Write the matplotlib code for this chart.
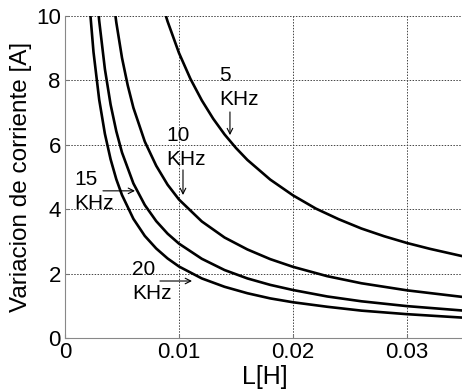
import matplotlib
matplotlib.use("Agg")
import matplotlib.pyplot as plt

plt.rcParams['font.family'] = ['Liberation Sans', 'DejaVu Sans']

# values (L in H, current ripple in A)
L_5k = [0.0085, 0.009, 0.010, 0.011, 0.012, 0.013, 0.014, 0.015, 0.016, 0.018,
        0.020, 0.022, 0.024, 0.026, 0.028, 0.030, 0.032, 0.035]
I_5k = [10.4, 9.83, 8.85, 8.05, 7.38, 6.81, 6.32, 5.90, 5.53, 4.92,
        4.43, 4.02, 3.69, 3.40, 3.16, 2.95, 2.77, 2.53]

L_10k = [0.0043, 0.0045, 0.005, 0.0055, 0.006, 0.007, 0.008, 0.009, 0.010, 0.012,
         0.014, 0.016, 0.018, 0.020, 0.023, 0.026, 0.030, 0.035]
I_10k = [10.35, 9.80, 8.70, 7.85, 7.15, 6.10, 5.35, 4.76, 4.30, 3.62,
         3.12, 2.75, 2.45, 2.21, 1.92, 1.70, 1.48, 1.27]

L_15k = [0.0029, 0.003, 0.0035, 0.004, 0.0045, 0.005, 0.006, 0.007, 0.008, 0.009,
         0.010, 0.012, 0.014, 0.016, 0.018, 0.020, 0.023, 0.026, 0.030, 0.035]
I_15k = [10.24, 9.85, 8.35, 7.25, 6.42, 5.76, 4.80, 4.13, 3.63, 3.24,
         2.93, 2.46, 2.11, 1.85, 1.65, 1.49, 1.29, 1.14, 0.99, 0.85]

L_20k = [0.0021, 0.0025, 0.003, 0.0035, 0.004, 0.0045, 0.005, 0.006, 0.007, 0.008,
         0.009, 0.010, 0.012, 0.014, 0.016, 0.018, 0.020, 0.023, 0.026, 0.030, 0.035]
I_20k = [10.57, 8.88, 7.40, 6.34, 5.55, 4.93, 4.44, 3.70, 3.17, 2.78,
         2.47, 2.22, 1.85, 1.59, 1.39, 1.23, 1.11, 0.97, 0.85, 0.74, 0.63]

labels = ["5\nKHz", "10\nKHz", "15\nKHz", "20\nKHz"]
# text top-left corner, arrow start and arrow tip (data coords)
text_pos = [(0.0135, 8.45), (0.00886, 6.58), (0.0008, 5.22), (0.00588, 2.42)]
arrow_starts = [(0.01447, 7.02), (0.01035, 5.22), (0.00333, 4.57), (0.00833, 1.77)]
arrow_tips = [(0.01447, 6.30), (0.01035, 4.44), (0.00614, 4.57), (0.01114, 1.77)]

xticks = [0, 0.01, 0.02, 0.03]
xticklabels = ["0", "0.01", "0.02", "0.03"]
yticks = [0, 2, 4, 6, 8, 10]

fig = plt.figure(figsize=(4.62, 3.91), dpi=100)
ax = fig.add_axes([65 / 462, 53 / 391, 399 / 462, 322 / 391])

for L, I in [(L_5k, I_5k), (L_10k, I_10k), (L_15k, I_15k), (L_20k, I_20k)]:
    ax.plot(L, I, color='black', lw=1.9)

for lab, tp, st, tip in zip(labels, text_pos, arrow_starts, arrow_tips):
    ax.annotate('', xy=tip, xytext=st,
                arrowprops=dict(arrowstyle='->', color='black', lw=0.8,
                                shrinkA=0, shrinkB=0))
    ax.text(tp[0], tp[1], lab, fontsize=15, ha='left', va='top',
            linespacing=1.35)

ax.set_xlim(0, 0.035)
ax.set_ylim(0, 10)
ax.set_xticks(xticks)
ax.set_xticklabels(xticklabels)
ax.set_yticks(yticks)
ax.grid(True, linestyle=(0, (1.5, 1.5)), color='#444444', lw=0.7)
ax.tick_params(direction='in', length=3, labelsize=16, colors='#777777',
               labelcolor='black', pad=3)
for s in ['top', 'right']:
    ax.spines[s].set_visible(False)
for s in ['left', 'bottom']:
    ax.spines[s].set_color('#888888')
ax.set_xlabel("L[H]", fontsize=18, labelpad=1)
ax.set_ylabel("Variacion de corriente [A]", fontsize=17.5, labelpad=3)

fig.savefig("out.png", dpi=100)
